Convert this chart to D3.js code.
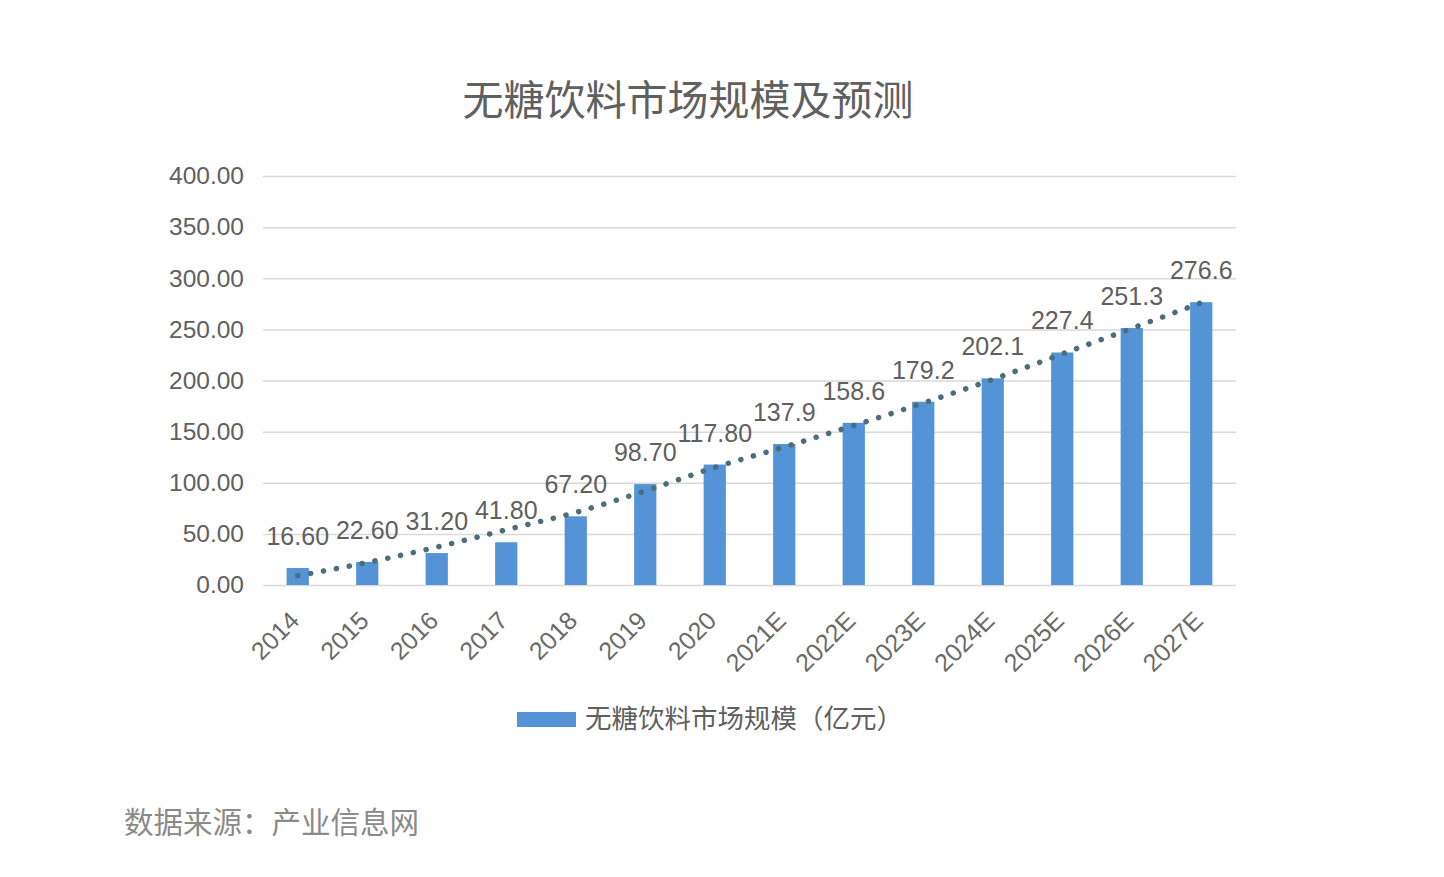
<!DOCTYPE html>
<html>
<head>
<meta charset="utf-8">
<script src="https://cdn.jsdelivr.net/npm/d3@7"></script>
<style>
  html, body { margin: 0; padding: 0; background: #fff; }
  svg { display: block; }
</style>
</head>
<body>
<svg></svg>
<script>
// chart data
const years = ['2014', '2015', '2016', '2017', '2018', '2019', '2020',
    '2021E', '2022E', '2023E', '2024E', '2025E', '2026E', '2027E'];
const marketSize = [16.6, 22.6, 31.2, 41.8, 67.2, 98.7, 117.8,
    137.9, 158.6, 179.2, 202.1, 227.4, 251.3, 276.6];
const valueLabels = ['16.60', '22.60', '31.20', '41.80', '67.20', '98.70', '117.80',
    '137.9', '158.6', '179.2', '202.1', '227.4', '251.3', '276.6'];
// dotted trend line
const trendValues = [9, 22, 37, 54, 71, 92, 115, 135, 156, 178, 201, 226, 251, 276];
const yTicks = [0, 50, 100, 150, 200, 250, 300, 350, 400];

const size = {w: 1444, h: 877};
const plot = {l: 263, r: 1236, t: 176, b: 585};
const svg = d3.select('svg').attr('width', size.w).attr('height', size.h);

const cjk = '"Noto Sans CJK SC", "Noto Sans", sans-serif';
const num = '"Liberation Sans", Arial, sans-serif';
const textColor = '#606060';

// scales
let x = d3.scaleBand()
    .domain(years)
    .range([plot.l, plot.r])
    .paddingInner(0.68)
    .paddingOuter(0.34);

let y = d3.scaleLinear()
    .domain([0, 400])
    .range([plot.b, plot.t]);

// title
svg.append('text')
    .attr('x', 688)
    .attr('y', 115)
    .attr('text-anchor', 'middle')
    .style('font-family', cjk)
    .style('font-size', '41px')
    .style('fill', textColor)
    .text('无糖饮料市场规模及预测');

// gridlines + y labels
let yAxis = d3.axisLeft(y)
    .tickValues(yTicks)
    .tickSize(-(plot.r - plot.l))
    .tickPadding(19)
    .tickFormat(d3.format('.2f'));

let yG = svg.append('g')
    .attr('transform', 'translate(' + plot.l + ',0)')
    .call(yAxis);
yG.select('.domain').remove();
yG.selectAll('line').attr('stroke', '#d9d9d9').attr('stroke-width', 1.5);
yG.selectAll('text')
    .style('font-family', num)
    .style('font-size', '24.5px')
    .style('fill', textColor);

// bars
svg.append('g').selectAll('rect')
    .data(marketSize)
    .join('rect')
    .attr('x', (d, i) => x(years[i]))
    .attr('y', d => y(d))
    .attr('width', x.bandwidth())
    .attr('height', d => y(0) - y(d))
    .attr('fill', '#5393d6');

// trend line (dotted)
let line = d3.line()
    .x((d, i) => x(years[i]) + x.bandwidth() / 2)
    .y(d => y(d))
    .curve(d3.curveMonotoneX);

svg.append('path')
    .datum(trendValues)
    .attr('d', line)
    .attr('fill', 'none')
    .attr('stroke', '#4b6e7a')
    .attr('stroke-width', 5.5)
    .attr('stroke-linecap', 'round')
    .attr('stroke-dasharray', '0.1 13');

// value labels
svg.append('g').selectAll('text')
    .data(marketSize)
    .join('text')
    .attr('x', (d, i) => x(years[i]) + x.bandwidth() / 2)
    .attr('y', d => y(d) - 23)
    .attr('text-anchor', 'middle')
    .style('font-family', num)
    .style('font-size', '25px')
    .style('fill', textColor)
    .text((d, i) => valueLabels[i]);

// x labels, rotated
svg.append('g').selectAll('text')
    .data(years)
    .join('text')
    .attr('transform', d => 'translate(' + (x(d) + x.bandwidth() / 2 - 3) + ',' + (plot.b + 31) + ') rotate(-45)')
    .attr('text-anchor', 'end')
    .attr('dy', '0.35em')
    .style('font-family', num)
    .style('font-size', '25px')
    .style('fill', '#6a6a6a')
    .text(d => d);

// legend
svg.append('rect')
    .attr('x', 517)
    .attr('y', 712)
    .attr('width', 59)
    .attr('height', 15)
    .attr('fill', '#5393d6');

svg.append('text')
    .attr('x', 585)
    .attr('y', 719)
    .attr('dy', '0.35em')
    .style('font-family', cjk)
    .style('font-size', '26.5px')
    .style('fill', textColor)
    .text('无糖饮料市场规模（亿元）');

// source note
svg.append('text')
    .attr('x', 124)
    .attr('y', 833)
    .style('font-family', cjk)
    .style('font-size', '29.5px')
    .style('fill', '#8a8a8a')
    .text('数据来源：产业信息网');
</script>
</body>
</html>
